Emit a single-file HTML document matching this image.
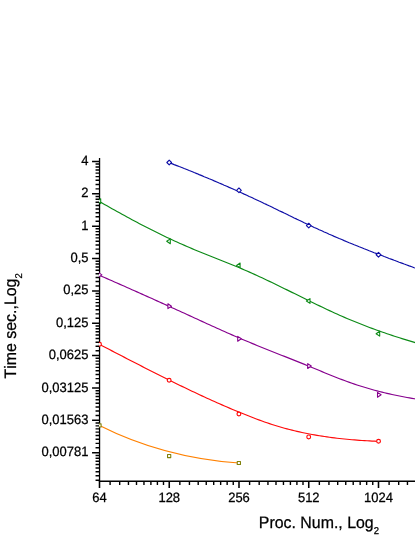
<!DOCTYPE html>
<html><head><meta charset="utf-8"><title>chart</title>
<style>
html,body{margin:0;padding:0;background:#fff;}
svg{display:block;font-family:"Liberation Sans",sans-serif;will-change:transform;text-rendering:geometricPrecision;font-kerning:none;}
</style></head><body>
<svg width="415" height="537" viewBox="0 0 415 537">
<rect width="415" height="537" fill="#fff"/>
<defs><clipPath id="pa"><rect x="99.0" y="100" width="316.0" height="382.0"/></clipPath></defs>

<g stroke="#000" fill="none" stroke-linecap="butt">
<line x1="99.55" y1="157.9" x2="99.55" y2="481.95" stroke-width="1.3"/>
<line x1="98.89999999999999" y1="481.3" x2="415" y2="481.3" stroke-width="1.4"/>
<path d="M92.05,161.40H99.55 M92.05,193.77H99.55 M92.05,226.14H99.55 M92.05,258.51H99.55 M92.05,290.88H99.55 M92.05,323.25H99.55 M92.05,355.62H99.55 M92.05,387.99H99.55 M92.05,420.36H99.55 M92.05,452.73H99.55" stroke-width="1.5"/>
<path d="M95.55,188.85H99.55 M95.55,184.40H99.55 M95.55,180.34H99.55 M95.55,176.60H99.55 M95.55,173.14H99.55 M95.55,169.91H99.55 M95.55,166.90H99.55 M95.55,164.07H99.55 M95.55,221.22H99.55 M95.55,216.77H99.55 M95.55,212.71H99.55 M95.55,208.97H99.55 M95.55,205.51H99.55 M95.55,202.28H99.55 M95.55,199.27H99.55 M95.55,196.44H99.55 M95.55,253.59H99.55 M95.55,249.14H99.55 M95.55,245.08H99.55 M95.55,241.34H99.55 M95.55,237.88H99.55 M95.55,234.65H99.55 M95.55,231.64H99.55 M95.55,228.81H99.55 M95.55,285.96H99.55 M95.55,281.51H99.55 M95.55,277.45H99.55 M95.55,273.71H99.55 M95.55,270.25H99.55 M95.55,267.02H99.55 M95.55,264.01H99.55 M95.55,261.18H99.55 M95.55,318.33H99.55 M95.55,313.88H99.55 M95.55,309.82H99.55 M95.55,306.08H99.55 M95.55,302.62H99.55 M95.55,299.39H99.55 M95.55,296.38H99.55 M95.55,293.55H99.55 M95.55,350.70H99.55 M95.55,346.25H99.55 M95.55,342.19H99.55 M95.55,338.45H99.55 M95.55,334.99H99.55 M95.55,331.76H99.55 M95.55,328.75H99.55 M95.55,325.92H99.55 M95.55,383.07H99.55 M95.55,378.62H99.55 M95.55,374.56H99.55 M95.55,370.82H99.55 M95.55,367.36H99.55 M95.55,364.13H99.55 M95.55,361.12H99.55 M95.55,358.29H99.55 M95.55,415.44H99.55 M95.55,410.99H99.55 M95.55,406.93H99.55 M95.55,403.19H99.55 M95.55,399.73H99.55 M95.55,396.50H99.55 M95.55,393.49H99.55 M95.55,390.66H99.55 M95.55,447.81H99.55 M95.55,443.36H99.55 M95.55,439.30H99.55 M95.55,435.56H99.55 M95.55,432.10H99.55 M95.55,428.87H99.55 M95.55,425.86H99.55 M95.55,423.03H99.55 M95.55,480.18H99.55 M95.55,475.73H99.55 M95.55,471.67H99.55 M95.55,467.93H99.55 M95.55,464.47H99.55 M95.55,461.24H99.55 M95.55,458.23H99.55 M95.55,455.40H99.55" stroke-width="1.45"/>
<path d="M99.50,481.3V488.10 M169.25,481.3V488.10 M239.00,481.3V488.10 M308.75,481.3V488.10 M378.50,481.3V488.10" stroke-width="1.55"/>
<path d="M110.10,481.3V485.00 M119.69,481.3V485.00 M128.45,481.3V485.00 M136.50,481.3V485.00 M143.96,481.3V485.00 M150.90,481.3V485.00 M157.40,481.3V485.00 M163.50,481.3V485.00 M179.85,481.3V485.00 M189.44,481.3V485.00 M198.20,481.3V485.00 M206.25,481.3V485.00 M213.71,481.3V485.00 M220.65,481.3V485.00 M227.15,481.3V485.00 M233.25,481.3V485.00 M249.60,481.3V485.00 M259.19,481.3V485.00 M267.95,481.3V485.00 M276.00,481.3V485.00 M283.46,481.3V485.00 M290.40,481.3V485.00 M296.90,481.3V485.00 M303.00,481.3V485.00 M319.35,481.3V485.00 M328.94,481.3V485.00 M337.70,481.3V485.00 M345.75,481.3V485.00 M353.21,481.3V485.00 M360.15,481.3V485.00 M366.65,481.3V485.00 M372.75,481.3V485.00 M389.10,481.3V485.00 M398.69,481.3V485.00 M407.45,481.3V485.00" stroke-width="1.4"/>
</g>
<g clip-path="url(#pa)" fill="none" stroke-linejoin="round">
<path d="M169.2,162.68 L171.8,163.65 L174.2,164.62 L176.8,165.60 L179.2,166.58 L181.8,167.56 L184.2,168.55 L186.8,169.55 L189.2,170.55 L191.8,171.56 L194.2,172.57 L196.8,173.59 L199.2,174.61 L201.8,175.64 L204.2,176.68 L206.8,177.72 L209.2,178.77 L211.8,179.82 L214.2,180.88 L216.8,181.95 L219.2,183.02 L221.8,184.10 L224.2,185.18 L226.8,186.28 L229.2,187.37 L231.8,188.48 L234.2,189.59 L236.8,190.71 L239.2,191.84 L241.8,192.97 L244.2,194.11 L246.8,195.25 L249.2,196.41 L251.8,197.56 L254.2,198.73 L256.8,199.90 L259.2,201.08 L261.8,202.26 L264.2,203.45 L266.8,204.64 L269.2,205.84 L271.8,207.04 L274.2,208.24 L276.8,209.45 L279.2,210.66 L281.8,211.87 L284.2,213.09 L286.8,214.30 L289.2,215.52 L291.8,216.73 L294.2,217.94 L296.8,219.14 L299.2,220.35 L301.8,221.54 L304.2,222.73 L306.8,223.92 L309.2,225.09 L311.8,226.26 L314.2,227.42 L316.8,228.57 L319.2,229.71 L321.8,230.84 L324.2,231.96 L326.8,233.08 L329.2,234.18 L331.8,235.27 L334.2,236.36 L336.8,237.44 L339.2,238.50 L341.8,239.56 L344.2,240.62 L346.8,241.66 L349.2,242.69 L351.8,243.72 L354.2,244.74 L356.8,245.76 L359.2,246.77 L361.8,247.77 L364.2,248.76 L366.8,249.75 L369.2,250.73 L371.8,251.71 L374.2,252.69 L376.8,253.65 L379.2,254.62 L381.8,255.58 L384.2,256.53 L386.8,257.48 L389.2,258.43 L391.8,259.37 L394.2,260.31 L396.8,261.25 L399.2,262.19 L401.8,263.12 L404.2,264.04 L406.8,264.97 L409.2,265.89 L411.8,266.81 L414.2,267.73 L416.8,268.65 L418.0,269.10" stroke="#0C0CA6" stroke-width="1.15"/>
<path d="M99.5,201.50 L102.0,202.95 L104.5,204.39 L107.0,205.83 L109.5,207.25 L112.0,208.67 L114.5,210.08 L117.0,211.48 L119.5,212.87 L122.0,214.25 L124.5,215.62 L127.0,216.99 L129.5,218.34 L132.0,219.69 L134.5,221.02 L137.0,222.35 L139.5,223.66 L142.0,224.97 L144.5,226.26 L147.0,227.54 L149.5,228.82 L152.0,230.08 L154.5,231.33 L157.0,232.57 L159.5,233.79 L162.0,235.01 L164.5,236.21 L167.0,237.41 L169.5,238.59 L172.0,239.75 L174.5,240.91 L177.0,242.05 L179.5,243.18 L182.0,244.30 L184.5,245.40 L187.0,246.49 L189.5,247.58 L192.0,248.64 L194.5,249.70 L197.0,250.75 L199.5,251.78 L202.0,252.81 L204.5,253.82 L207.0,254.83 L209.5,255.83 L212.0,256.82 L214.5,257.81 L217.0,258.79 L219.5,259.77 L222.0,260.75 L224.5,261.74 L227.0,262.73 L229.5,263.72 L232.0,264.73 L234.5,265.74 L237.0,266.77 L239.5,267.82 L242.0,268.88 L244.5,269.95 L247.0,271.04 L249.5,272.14 L252.0,273.25 L254.5,274.37 L257.0,275.51 L259.5,276.66 L262.0,277.82 L264.5,278.99 L267.0,280.17 L269.5,281.36 L272.0,282.56 L274.5,283.77 L277.0,284.98 L279.5,286.20 L282.0,287.43 L284.5,288.66 L287.0,289.89 L289.5,291.13 L292.0,292.36 L294.5,293.60 L297.0,294.84 L299.5,296.08 L302.0,297.32 L304.5,298.55 L307.0,299.79 L309.5,301.02 L312.0,302.24 L314.5,303.46 L317.0,304.68 L319.5,305.89 L322.0,307.09 L324.5,308.28 L327.0,309.47 L329.5,310.64 L332.0,311.80 L334.5,312.94 L337.0,314.07 L339.5,315.19 L342.0,316.29 L344.5,317.38 L347.0,318.45 L349.5,319.51 L352.0,320.55 L354.5,321.58 L357.0,322.59 L359.5,323.59 L362.0,324.57 L364.5,325.54 L367.0,326.50 L369.5,327.44 L372.0,328.37 L374.5,329.29 L377.0,330.19 L379.5,331.08 L382.0,331.96 L384.5,332.83 L387.0,333.68 L389.5,334.53 L392.0,335.36 L394.5,336.18 L397.0,336.99 L399.5,337.80 L402.0,338.59 L404.5,339.37 L407.0,340.14 L409.5,340.91 L412.0,341.66 L414.5,342.41 L417.0,343.15 L418.0,343.44" stroke="#0C8A16" stroke-width="1.15"/>
<path d="M99.5,275.34 L102.0,276.44 L104.5,277.53 L107.0,278.62 L109.5,279.72 L112.0,280.82 L114.5,281.92 L117.0,283.02 L119.5,284.12 L122.0,285.22 L124.5,286.33 L127.0,287.44 L129.5,288.55 L132.0,289.66 L134.5,290.77 L137.0,291.88 L139.5,293.00 L142.0,294.12 L144.5,295.24 L147.0,296.36 L149.5,297.48 L152.0,298.60 L154.5,299.73 L157.0,300.86 L159.5,301.98 L162.0,303.12 L164.5,304.25 L167.0,305.38 L169.5,306.52 L172.0,307.65 L174.5,308.79 L177.0,309.93 L179.5,311.07 L182.0,312.21 L184.5,313.35 L187.0,314.50 L189.5,315.64 L192.0,316.79 L194.5,317.93 L197.0,319.07 L199.5,320.22 L202.0,321.36 L204.5,322.50 L207.0,323.65 L209.5,324.78 L212.0,325.92 L214.5,327.06 L217.0,328.19 L219.5,329.32 L222.0,330.44 L224.5,331.56 L227.0,332.67 L229.5,333.77 L232.0,334.87 L234.5,335.96 L237.0,337.04 L239.5,338.12 L242.0,339.18 L244.5,340.24 L247.0,341.29 L249.5,342.33 L252.0,343.36 L254.5,344.39 L257.0,345.41 L259.5,346.43 L262.0,347.44 L264.5,348.45 L267.0,349.45 L269.5,350.45 L272.0,351.44 L274.5,352.44 L277.0,353.43 L279.5,354.42 L282.0,355.41 L284.5,356.40 L287.0,357.39 L289.5,358.38 L292.0,359.38 L294.5,360.37 L297.0,361.38 L299.5,362.38 L302.0,363.39 L304.5,364.40 L307.0,365.42 L309.5,366.44 L312.0,367.47 L314.5,368.51 L317.0,369.55 L319.5,370.59 L322.0,371.63 L324.5,372.67 L327.0,373.70 L329.5,374.73 L332.0,375.74 L334.5,376.74 L337.0,377.72 L339.5,378.69 L342.0,379.64 L344.5,380.57 L347.0,381.48 L349.5,382.38 L352.0,383.25 L354.5,384.10 L357.0,384.93 L359.5,385.74 L362.0,386.54 L364.5,387.30 L367.0,388.05 L369.5,388.78 L372.0,389.49 L374.5,390.18 L377.0,390.85 L379.5,391.50 L382.0,392.13 L384.5,392.74 L387.0,393.33 L389.5,393.90 L392.0,394.46 L394.5,395.00 L397.0,395.52 L399.5,396.03 L402.0,396.52 L404.5,397.00 L407.0,397.45 L409.5,397.90 L412.0,398.33 L414.5,398.74 L417.0,399.14 L418.0,399.30" stroke="#86008E" stroke-width="1.15"/>
<path d="M99.5,344.34 L102.0,345.65 L104.5,346.96 L107.0,348.27 L109.5,349.57 L112.0,350.88 L114.5,352.18 L117.0,353.48 L119.5,354.78 L122.0,356.08 L124.5,357.37 L127.0,358.66 L129.5,359.96 L132.0,361.25 L134.5,362.53 L137.0,363.82 L139.5,365.10 L142.0,366.38 L144.5,367.65 L147.0,368.93 L149.5,370.20 L152.0,371.47 L154.5,372.73 L157.0,373.99 L159.5,375.25 L162.0,376.50 L164.5,377.75 L167.0,379.00 L169.5,380.24 L172.0,381.47 L174.5,382.70 L177.0,383.93 L179.5,385.15 L182.0,386.37 L184.5,387.58 L187.0,388.78 L189.5,389.98 L192.0,391.17 L194.5,392.35 L197.0,393.53 L199.5,394.70 L202.0,395.86 L204.5,397.02 L207.0,398.17 L209.5,399.30 L212.0,400.44 L214.5,401.56 L217.0,402.67 L219.5,403.78 L222.0,404.87 L224.5,405.96 L227.0,407.04 L229.5,408.11 L232.0,409.17 L234.5,410.22 L237.0,411.26 L239.5,412.29 L242.0,413.32 L244.5,414.34 L247.0,415.34 L249.5,416.33 L252.0,417.31 L254.5,418.27 L257.0,419.21 L259.5,420.13 L262.0,421.03 L264.5,421.92 L267.0,422.78 L269.5,423.62 L272.0,424.44 L274.5,425.23 L277.0,426.00 L279.5,426.75 L282.0,427.48 L284.5,428.18 L287.0,428.86 L289.5,429.52 L292.0,430.16 L294.5,430.77 L297.0,431.36 L299.5,431.93 L302.0,432.48 L304.5,433.01 L307.0,433.52 L309.5,434.00 L312.0,434.47 L314.5,434.92 L317.0,435.35 L319.5,435.77 L322.0,436.16 L324.5,436.54 L327.0,436.90 L329.5,437.25 L332.0,437.58 L334.5,437.90 L337.0,438.20 L339.5,438.48 L342.0,438.76 L344.5,439.02 L347.0,439.26 L349.5,439.50 L352.0,439.72 L354.5,439.92 L357.0,440.12 L359.5,440.31 L362.0,440.48 L364.5,440.64 L367.0,440.80 L369.5,440.94 L372.0,441.07 L374.5,441.19 L377.0,441.31 L378.5,441.37" stroke="#FF0A0A" stroke-width="1.15"/>
<path d="M99.5,425.4 C145.97,448.9 192.43,459.6 238.9,463.0" stroke="#FF8000" stroke-width="1.15"/>
<path d="M166.85,162.50 L169.20,160.15 L171.55,162.50 L169.20,164.85Z" fill="#fff" stroke="#0C0CA6" stroke-width="1.08"/>
<path d="M236.60,190.30 L238.95,187.95 L241.30,190.30 L238.95,192.65Z" fill="#fff" stroke="#0C0CA6" stroke-width="1.08"/>
<path d="M306.40,225.60 L308.75,223.25 L311.10,225.60 L308.75,227.95Z" fill="#fff" stroke="#0C0CA6" stroke-width="1.08"/>
<path d="M376.15,254.75 L378.50,252.40 L380.85,254.75 L378.50,257.10Z" fill="#fff" stroke="#0C0CA6" stroke-width="1.08"/>
<path d="M97.10,201.20 L100.70,198.80 L100.70,203.60Z" fill="#fff" stroke="#0C8A16" stroke-width="1.08"/>
<path d="M166.70,241.30 L170.30,238.90 L170.30,243.70Z" fill="#fff" stroke="#0C8A16" stroke-width="1.08"/>
<path d="M236.50,265.40 L240.10,263.00 L240.10,267.80Z" fill="#fff" stroke="#0C8A16" stroke-width="1.08"/>
<path d="M306.40,301.00 L310.00,298.60 L310.00,303.40Z" fill="#fff" stroke="#0C8A16" stroke-width="1.08"/>
<path d="M376.10,333.70 L379.70,331.30 L379.70,336.10Z" fill="#fff" stroke="#0C8A16" stroke-width="1.08"/>
<path d="M101.90,274.90 L98.30,272.50 L98.30,277.30Z" fill="#fff" stroke="#86008E" stroke-width="1.08"/>
<path d="M171.50,306.20 L167.90,303.80 L167.90,308.60Z" fill="#fff" stroke="#86008E" stroke-width="1.08"/>
<path d="M241.30,338.80 L237.70,336.40 L237.70,341.20Z" fill="#fff" stroke="#86008E" stroke-width="1.08"/>
<path d="M311.30,366.05 L307.70,363.65 L307.70,368.45Z" fill="#fff" stroke="#86008E" stroke-width="1.08"/>
<path d="M381.10,394.80 L377.50,392.40 L377.50,397.20Z" fill="#fff" stroke="#86008E" stroke-width="1.08"/>
<circle cx="99.50" cy="344.20" r="1.9" fill="#fff" stroke="#FF0A0A" stroke-width="1.15"/>
<circle cx="169.15" cy="380.25" r="1.9" fill="#fff" stroke="#FF0A0A" stroke-width="1.15"/>
<circle cx="238.90" cy="414.00" r="1.9" fill="#fff" stroke="#FF0A0A" stroke-width="1.15"/>
<circle cx="308.70" cy="436.90" r="1.9" fill="#fff" stroke="#FF0A0A" stroke-width="1.15"/>
<circle cx="378.55" cy="441.20" r="1.9" fill="#fff" stroke="#FF0A0A" stroke-width="1.15"/>
<rect x="97.90" y="423.90" width="3.2" height="3.05" fill="#fff" stroke="#80800A" stroke-width="1.08"/>
<rect x="167.55" y="454.55" width="3.2" height="3.05" fill="#fff" stroke="#80800A" stroke-width="1.08"/>
<rect x="237.25" y="461.50" width="3.2" height="3.05" fill="#fff" stroke="#80800A" stroke-width="1.08"/>
</g>
<g fill="#000" font-size="13px" stroke="#000" stroke-width="0.25">
<text transform="translate(88.5,165.00) scale(1,1.04)" text-anchor="end">4</text>
<text transform="translate(88.5,197.37) scale(1,1.04)" text-anchor="end">2</text>
<text transform="translate(88.5,229.74) scale(1,1.04)" text-anchor="end">1</text>
<text transform="translate(88.5,262.11) scale(1,1.04)" text-anchor="end">0,5</text>
<text transform="translate(88.5,294.48) scale(1,1.04)" text-anchor="end">0,25</text>
<text transform="translate(88.5,326.85) scale(1,1.04)" text-anchor="end">0,125</text>
<text transform="translate(88.5,359.22) scale(1,1.04)" text-anchor="end">0,0625</text>
<text transform="translate(88.5,391.59) scale(1,1.04)" text-anchor="end">0,03125</text>
<text transform="translate(88.5,423.96) scale(1,1.04)" text-anchor="end">0,01563</text>
<text transform="translate(88.5,456.33) scale(1,1.04)" text-anchor="end">0,00781</text>
<text transform="translate(99.50,502.25) scale(1,1.04)" text-anchor="middle">64</text>
<text transform="translate(169.25,502.25) scale(1,1.04)" text-anchor="middle">128</text>
<text transform="translate(239.00,502.25) scale(1,1.04)" text-anchor="middle">256</text>
<text transform="translate(308.75,502.25) scale(1,1.04)" text-anchor="middle">512</text>
<text transform="translate(378.50,502.25) scale(1,1.04)" text-anchor="middle">1024</text>
</g>
<g fill="#000" font-size="15.9px" stroke="#000" stroke-width="0.25">
<text transform="translate(258.85,527.5) scale(1,1.04)">Proc. Num., Log<tspan font-size="9.5px" dy="6.2">2</tspan></text>
<text transform="translate(15.9,378.4) rotate(-90) scale(1,1.04)">Time sec.,Log<tspan font-size="9.5px" dy="6.2">2</tspan></text>
</g>
</svg></body></html>
